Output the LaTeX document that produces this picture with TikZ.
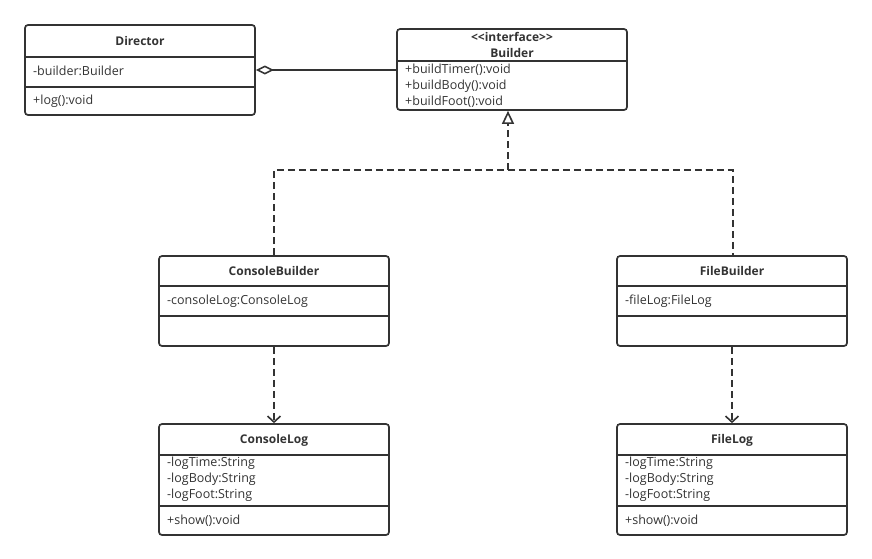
\documentclass[tikz,border=0pt]{standalone}
\usepackage{fontspec}
\setmainfont{Open Sans}
\usetikzlibrary{arrows.meta}
\definecolor{ink}{HTML}{333333}
\tikzset{
  x=1pt, y=-1pt,
  cls/.style={draw=ink, line width=1.7pt, rounded corners=3pt, inner sep=0pt},
  divider/.style={draw=ink, line width=1.5pt},
  ttl/.style={font=\fontsize{12}{13}\selectfont\bfseries, text=ink, inner sep=0pt},
  mem/.style={font=\fontsize{12.5}{14}\selectfont, text=ink, inner sep=0pt, anchor=west},
  dashline/.style={draw=ink, line width=1.6pt, dash pattern=on 7pt off 4pt},
  solidline/.style={draw=ink, line width=1.6pt},
}
\begin{document}
\begin{tikzpicture}
\useasboundingbox (0,0) rectangle (872,558);
% Director
\node[cls, minimum width=230pt, minimum height=90pt] (director) at (140,70) {};
\draw[divider] (25,57) -- (255,57);
\draw[divider] (25,87) -- (255,87);
\node[ttl] (dirT) at (140,41) {Director};
\node[mem] (dirA) at (33,71) {-builder:Builder};
\node[mem] (dirM) at (33,101) {+log():void};
% Builder
\node[cls, minimum width=230pt, minimum height=81pt] (builder) at (512,69.5) {};
\draw[divider] (397,61) -- (627,61);
\node[ttl] (bS) at (512,37) {<{}<interface>{}>};
\node[ttl] (bT) at (512,53) {Builder};
\node[mem] (bM1) at (405,70) {+buildTimer():void};
\node[mem] (bM2) at (405,86) {+buildBody():void};
\node[mem] (bM3) at (405,102) {+buildFoot():void};
% ConsoleBuilder
\node[cls, minimum width=230pt, minimum height=90pt] (cb) at (274,301) {};
\draw[divider] (159,286) -- (389,286);
\draw[divider] (159,316) -- (389,316);
\node[ttl] (cbT) at (274,271) {ConsoleBuilder};
\node[mem] (cbA) at (167,301) {-consoleLog:ConsoleLog};
% FileBuilder
\node[cls, minimum width=230pt, minimum height=90pt] (fb) at (732,301) {};
\draw[divider] (617,286) -- (847,286);
\draw[divider] (617,316) -- (847,316);
\node[ttl] (fbT) at (732,271) {FileBuilder};
\node[mem] (fbA) at (625,301) {-fileLog:FileLog};
% ConsoleLog
\node[cls, minimum width=230pt, minimum height=111pt] (cl) at (274,479.5) {};
\draw[divider] (159,455) -- (389,455);
\draw[divider] (159,506) -- (389,506);
\node[ttl] (clT) at (274,440) {ConsoleLog};
\node[mem] (clA1) at (167,463) {-logTime:String};
\node[mem] (clA2) at (167,479) {-logBody:String};
\node[mem] (clA3) at (167,495) {-logFoot:String};
\node[mem] (clM) at (167,521) {+show():void};
% FileLog
\node[cls, minimum width=230pt, minimum height=111pt] (fl) at (732,479.5) {};
\draw[divider] (617,455) -- (847,455);
\draw[divider] (617,506) -- (847,506);
\node[ttl] (flT) at (732,440) {FileLog};
\node[mem] (flA1) at (625,463) {-logTime:String};
\node[mem] (flA2) at (625,479) {-logBody:String};
\node[mem] (flA3) at (625,495) {-logFoot:String};
\node[mem] (flM) at (625,521) {+show():void};
% connectors
\draw[solidline, {Diamond[open, length=18pt, width=9pt]}-] (director.east |- 0,70) -- (builder.west |- 0,70);
\coordinate (jn) at (508,170);
\coordinate (jl) at (274,170);
\coordinate (jr) at (733,170);
\draw[dashline, -{Triangle[open, length=13pt, width=12pt]}] (jn) -- (builder.south -| jn);
\draw[dashline] (cb.north) -- (jl) -- (jr) -- (fb.north -| jr);
\draw[dashline, -{Straight Barb[length=6pt, width=13pt]}] (cb.south) -- (cl.north);
\draw[dashline, -{Straight Barb[length=6pt, width=13pt]}] (fb.south) -- (fl.north);
\end{tikzpicture}
\end{document}
